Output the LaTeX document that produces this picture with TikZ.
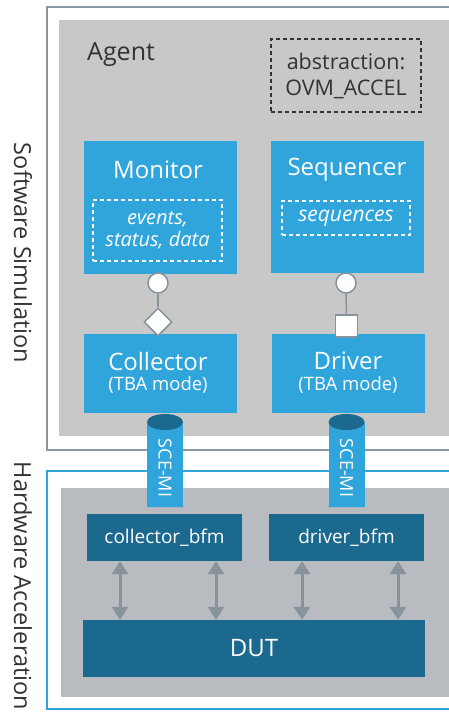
\documentclass[tikz,border=0pt]{standalone}
\usepackage{fontspec}
\setmainfont{Open Sans}
\usetikzlibrary{shapes.geometric,arrows.meta}
\definecolor{bluebox}{HTML}{2FA5DC}
\definecolor{darkblue}{HTML}{1B698F}
\definecolor{agentgray}{HTML}{C8C8C8}
\definecolor{hwgray}{HTML}{B8BBBF}
\definecolor{framegray}{HTML}{8A97A0}
\definecolor{conngray}{HTML}{86939A}
\definecolor{textdark}{HTML}{333333}
\tikzset{
  compbox/.style={rectangle, fill=bluebox, text=white, inner sep=0pt},
  bfmbox/.style={rectangle, fill=darkblue, text=white, inner sep=0pt},
  wdash/.style={draw=white, dashed, dash pattern=on 4pt off 3pt, line width=1.5pt, inner sep=0pt, text=white},
  portcirc/.style={circle, draw=conngray, fill=white, line width=1.5pt, minimum size=20pt, inner sep=0pt},
  portline/.style={draw=conngray, line width=1.5pt},
  bidir/.style={draw=conngray, line width=3pt, {Triangle[width=16pt,length=13pt]}-{Triangle[width=16pt,length=13pt]}},
  sidelabel/.style={text=textdark, font=\fontsize{23.5}{28}\selectfont, rotate=-90},
  titlefont/.style={text=white, font=\fontsize{24}{28}\selectfont},
  modefont/.style={text=white, font=\fontsize{18.5}{22}\selectfont}
}
\begin{document}
\begin{tikzpicture}[x=1pt,y=-1pt]
\useasboundingbox (0,0) rectangle (449,715);
\clip (0,0) rectangle (449,715);
\fill[white] (0,0) rectangle (449,715);
% software frame
\draw[framegray, line width=2pt] (47,7) rectangle (480,450);
\fill[agentgray] (59,20) rectangle (480,436);
% hardware frame
\draw[bluebox, line width=2pt] (47,471) rectangle (480,709);
\fill[hwgray] (61,488) rectangle (480,697);

\node[sidelabel] (sw) at (23,253) {Software Simulation};
\node[sidelabel] (hw) at (23,586) {Hardware Acceleration};

\node[anchor=west, inner sep=0pt, text=textdark, font=\fontsize{25}{28}\selectfont] (agent) at (87,55) {Agent};
\node[draw=textdark, dashed, dash pattern=on 4pt off 3pt, line width=1.5pt, minimum width=150pt, minimum height=73pt, align=center, text=textdark, font=\fontsize{21.5}{26}\selectfont] (abs) at (346,75.5) {abstraction:\\OVM\_ACCEL};

% components
\node[compbox, minimum width=153pt, minimum height=133pt] (mon) at (160.5,207.5) {};
\node[titlefont] (monT) at (158,170) {Monitor};
\node[wdash, minimum width=129pt, minimum height=61pt, align=center, font=\fontsize{20}{22}\itshape] (monD) at (157.5,230.5) {events,\\status, data};

\node[compbox, minimum width=153pt, minimum height=132pt] (seq) at (347.5,207) {};
\node[titlefont] (seqT) at (347,170) {Sequencer};
\node[wdash, minimum width=128pt, minimum height=34pt, font=\fontsize{21}{24}\itshape] (seqD) at (346,218) {sequences};

\node[compbox, minimum width=153pt, minimum height=79pt, align=center] (col) at (160.5,373.5) {};
\node[titlefont] (colT) at (158,361) {Collector};
\node[modefont] (colM) at (158,385) {(TBA mode)};

\node[compbox, minimum width=153pt, minimum height=79pt] (drv) at (348.5,373.5) {};
\node[titlefont] (drvT) at (348,361) {Driver};
\node[modefont] (drvM) at (348,385) {(TBA mode)};

% ports
\node[portcirc] (mc) at (158,283) {};
\node[diamond, draw=conngray, fill=white, line width=1.5pt, minimum size=28pt, inner sep=0pt] (md) at (158,322) {};
\draw[portline] (mc.south) -- (md.north);
\node[portcirc] (sc) at (346,283) {};
\node[rectangle, draw=conngray, fill=white, line width=1.5pt, minimum size=22pt, inner sep=0pt] (ds) at (346.5,326) {};
\draw[portline] (sc.south) -- (ds.north);

% bfms
\node[bfmbox, minimum width=155pt, minimum height=47pt, font=\fontsize{19}{22}\selectfont] (cbfm) at (164.5,537.5) {collector\_bfm};
\node[bfmbox, minimum width=155pt, minimum height=47pt, font=\fontsize{19}{22}\selectfont] (dbfm) at (346.5,537.5) {driver\_bfm};
\node[bfmbox, minimum width=342pt, minimum height=57pt, font=\fontsize{24}{28}\selectfont] (dut) at (254,648.5) {DUT};

% SCE-MI cylinders
\foreach \cx/\nm in {165/c1, 346.5/c2}{
  \fill[bluebox] (\cx-18,422) rectangle (\cx+18,507);
  \fill[bluebox] (\cx-18,507) arc[start angle=180, end angle=360, x radius=18pt, y radius=-8pt];
  \fill[darkblue] (\cx,422) ellipse[x radius=18pt, y radius=8pt];
  \node[text=white, rotate=-90, font=\fontsize{18}{20}\selectfont] (\nm) at (\cx,468) {SCE-MI};
}

% bidirectional arrows
\coordinate (a1) at (120,0);
\coordinate (a2) at (216,0);
\coordinate (a3) at (302,0);
\coordinate (a4) at (398,0);
\draw[bidir] (cbfm.south -| a1) -- (dut.north -| a1);
\draw[bidir] (cbfm.south -| a2) -- (dut.north -| a2);
\draw[bidir] (dbfm.south -| a3) -- (dut.north -| a3);
\draw[bidir] (dbfm.south -| a4) -- (dut.north -| a4);
\end{tikzpicture}
\end{document}
